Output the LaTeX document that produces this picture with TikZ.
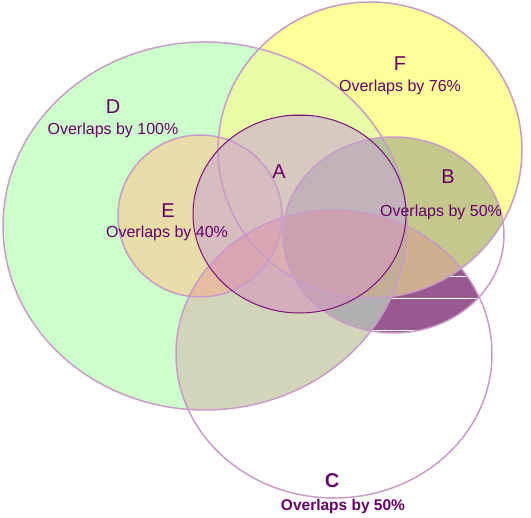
\documentclass[tikz,border=0pt]{standalone}
\usepackage{fontspec}
\setmainfont{Liberation Sans}
\definecolor{dcol}{HTML}{CCFFCC}
\definecolor{fcol}{HTML}{FFFF99}
\definecolor{dfcol}{HTML}{E8FCA8}
\definecolor{ecol}{HTML}{E8DCA8}
\definecolor{darkcol}{HTML}{985890}
\definecolor{bcol}{HTML}{C4C8EB}
\definecolor{acol}{HTML}{CDA9D0}
\definecolor{ccol}{HTML}{E67696}
\definecolor{outcol}{HTML}{C89BC8}
\definecolor{aout}{HTML}{7A127A}
\definecolor{txtcol}{HTML}{660066}
\begin{document}
\begin{tikzpicture}[x=1pt,y=-1pt,
  outl/.style={draw=outcol, line width=1.5pt},
  aline/.style={draw=aout, line width=1pt},
  letter/.style={text=txtcol, font=\fontsize{20}{22}\selectfont, inner sep=0pt},
  ovl/.style={text=txtcol, font=\fontsize{16}{18}\selectfont, inner sep=0pt},
  ovlb/.style={text=txtcol, font=\fontsize{15.5}{18}\selectfont\bfseries, inner sep=0pt}]
\useasboundingbox (0,0) rectangle (531,518);
\def\pD{(205,226) ellipse [x radius=202pt, y radius=184pt]}
\def\pF{(370,150) ellipse [x radius=152pt, y radius=148pt]}
\def\pE{(200,216) ellipse [x radius=82pt, y radius=81pt]}
\def\pA{(299.5,214) ellipse [x radius=106.5pt, y radius=99pt]}
\def\pB{(393.5,235) ellipse [x radius=110.5pt, y radius=98pt]}
\def\pC{(334,354) ellipse [x radius=158pt, y radius=144pt]}
% B and C overlap outside D and F
\begin{scope}
  \clip \pB;
  \fill[darkcol] \pC;
  \draw[white, line width=1pt] (360,277) -- (510,277);
  \draw[white, line width=1pt] (360,299) -- (510,299);
  \draw[white, line width=1pt] (360,331) -- (510,331);
\end{scope}
% F and D
\fill[fcol] \pF;
\fill[dcol] \pD;
\begin{scope}
  \clip \pD;
  \fill[dfcol] \pF;
\end{scope}
% E
\fill[ecol] \pE;
% B (only visible over D and F)
\begin{scope}
  \clip \pD \pF;
  \begin{scope}[blend mode=multiply]
    \fill[bcol] \pB;
  \end{scope}
\end{scope}
% A
\fill[acol, fill opacity=0.625] \pA;
% C (only visible over D and F)
\begin{scope}
  \clip \pD \pF;
  \fill[ccol, fill opacity=0.3] \pC;
\end{scope}
% outlines
\draw[outl] \pD;
\draw[outl] \pF;
\draw[outl] \pE;
\draw[outl] \pB;
\draw[outl] \pC;
\draw[aline] \pA;
\draw[aout, line width=1.5pt] (285,115.3) -- (313,115.3);
% labels
\node[letter] (tD) at (113,107) {D};
\node[ovl] (oD) at (113,130) {Overlaps by 100\%};
\node[letter] (tF) at (400,64) {F};
\node[ovl] (oF) at (400,87) {Overlaps by 76\%};
\node[letter] (tA) at (279,172) {A};
\node[letter] (tB) at (448,177) {B};
\node[ovl] (oB) at (441,212) {Overlaps by 50\%};
\node[letter] (tE) at (168,211) {E};
\node[ovl] (oE) at (167,233) {Overlaps by 40\%};
\node[letter, font=\fontsize{20}{22}\selectfont\bfseries] (tC) at (332,481) {C};
\node[ovlb] (oC) at (343,506) {Overlaps by 50\%};
\end{tikzpicture}
\end{document}
